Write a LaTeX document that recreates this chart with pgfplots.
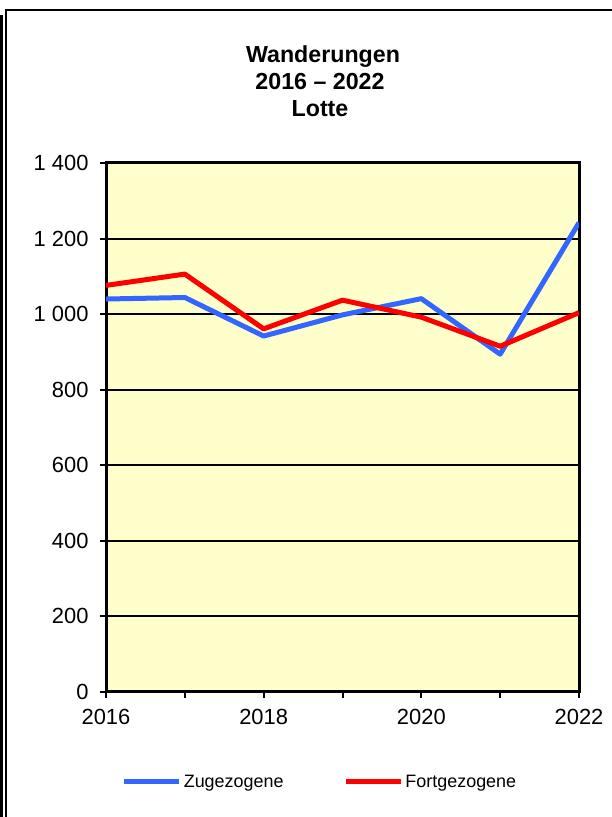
\documentclass[border=0pt]{standalone}
\usepackage{pgfplots}
\pgfplotsset{compat=1.18}
\usepackage{fontspec}
\setmainfont{Liberation Sans}
\definecolor{bgyellow}{RGB}{255,255,204}
\definecolor{zublue}{RGB}{51,102,255}
\definecolor{fortred}{RGB}{255,0,0}
\begin{document}
\begin{tikzpicture}[x=1bp,y=1bp]
  \path[use as bounding box] (0,0) rectangle (612,817);
  % frame
  \fill[black] (0,0) rectangle (3.3,802);
  \draw[line width=2bp] (6,0) -- (6,807) -- (612,807);
  % title
  \node[font=\fontsize{23.3}{27}\selectfont\bfseries, anchor=base] at (323,754) {Wanderungen};
  \node[font=\fontsize{23.3}{27}\selectfont\bfseries, anchor=base] at (320,727) {2016 – 2022};
  \node[font=\fontsize{23.3}{27}\selectfont\bfseries, anchor=base] at (320,700) {Lotte};
  \begin{axis}[
    at={(106bp,125bp)}, anchor=south west,
    scale only axis,
    width=473bp, height=529bp,
    xmin=2016, xmax=2022,
    ymin=0, ymax=1400,
    axis background/.style={fill=bgyellow},
    axis line style={line width=3bp, black},
    xtick={2016,2018,2020,2022},
    xticklabels={2016,2018,2020,2022},
    minor xtick={2017,2019,2021},
    ytick={0,200,400,600,800,1000,1200,1400},
    yticklabels={0,200,400,600,800,1 000,1 200,1 400},
    tick align=outside,
    major tick length=6bp, minor tick length=6bp,
    tick style={line width=2bp, black},
    xtick pos=bottom, ytick pos=left,
    ymajorgrids,
    major grid style={line width=2bp, black},
    ticklabel style={font=\fontsize{22}{25}\selectfont},
    xticklabel style={yshift=-8bp},
    yticklabel style={xshift=-8bp},
    legend columns=2,
    legend style={at={(0.4524,-0.170)}, anchor=center, draw=none, fill=none,
      font=\fontsize{18}{21}\selectfont,
      /tikz/every even column/.append style={column sep=58bp}},
    legend image code/.code={\draw[#1] (0bp,0bp) -- (55bp,0bp);},
  ]
    \addplot[zublue, line width=5bp, line join=round] coordinates {
      (2016,1040) (2017,1044) (2018,942) (2019,998) (2020,1041) (2021,894) (2022,1242)
    };
    \addlegendentry{Zugezogene}
    \addplot[fortred, line width=5bp, line join=round] coordinates {
      (2016,1076) (2017,1106) (2018,961) (2019,1037) (2020,992) (2021,915) (2022,1004)
    };
    \addlegendentry{Fortgezogene}
  \end{axis}
\end{tikzpicture}
\end{document}
